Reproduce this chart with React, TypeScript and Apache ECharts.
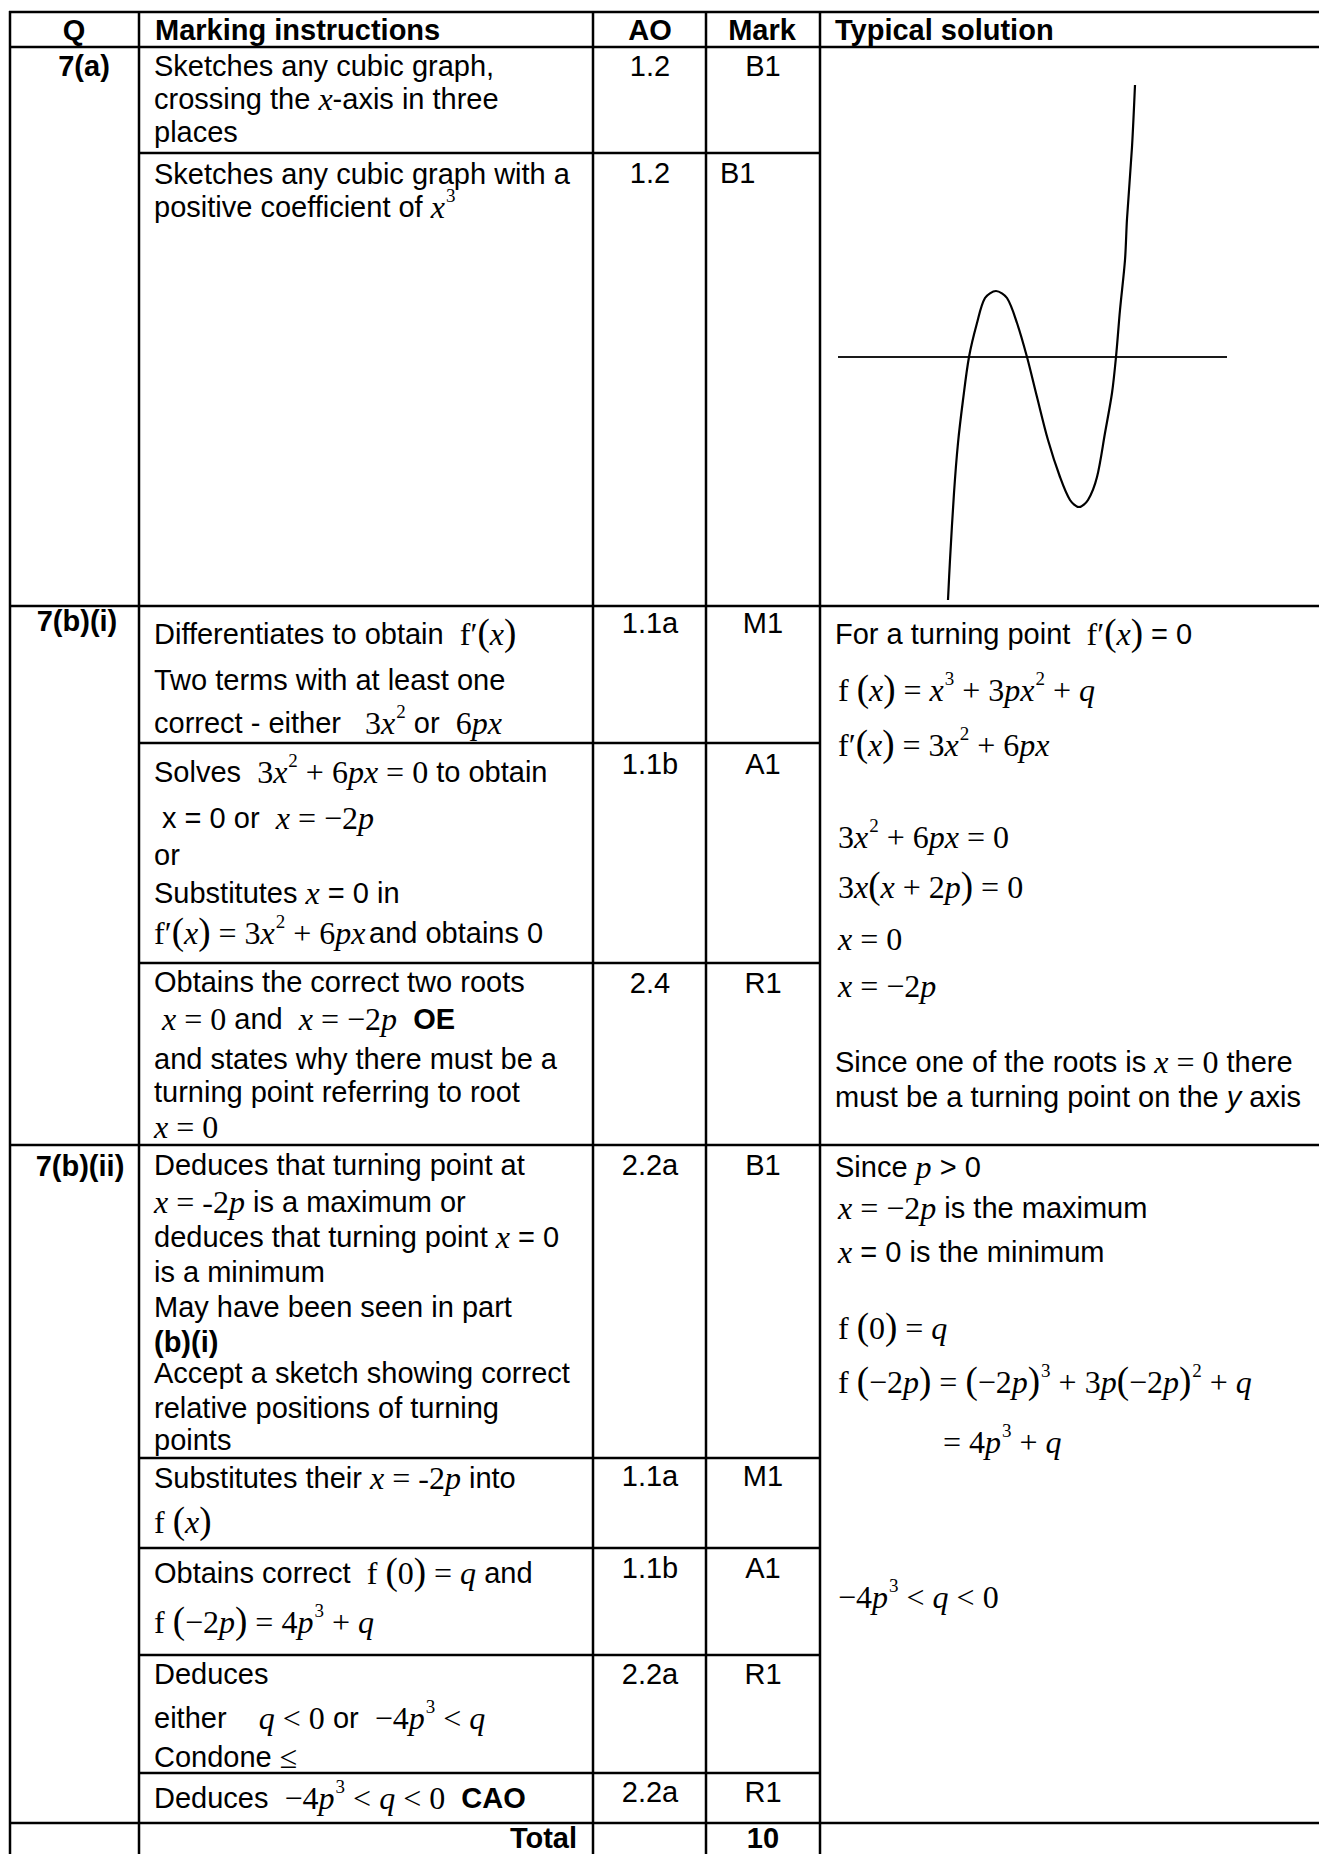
import React, { useEffect, useRef } from "react";
import * as echarts from "echarts";

// ---------- DATA ----------
const headers = ["Q", "Marking instructions", "AO", "Mark", "Typical solution"];
const questions = ["7(a)", "7(b)(i)", "7(b)(ii)"];
const aoCodes = ["1.2", "1.2", "1.1a", "1.1b", "2.4", "2.2a", "1.1a", "1.1b", "2.2a", "2.2a"];
const marks = ["B1", "B1", "M1", "A1", "R1", "B1", "M1", "A1", "R1", "R1"];
const totalLabel = "Total";
const totalMark = "10";

// sketch of the cubic (sketch units = page pixels)
const curveX = [948, 950, 954, 958, 963, 969, 977, 985, 996, 1007, 1017, 1027, 1037, 1048, 1060, 1070, 1079, 1088, 1097, 1105, 1112, 1116, 1120, 1125, 1127, 1132, 1135];
const curveY = [600, 560, 493, 443, 400, 357, 323, 298, 291, 298, 323, 357, 397, 440, 477, 500, 507, 500, 477, 433, 393, 357, 310, 260, 219, 147, 85];
const xAxisLineX = [838, 1227];
const xAxisLineY = [357, 357];

type Seg = [string, string];

// marking-instruction lines
const markingLines: Seg[][] = [
  [["n", "Sketches any cubic graph,"]],
  [["n", "crossing the "], ["i", "x"], ["n", "-axis in three"]],
  [["n", "places"]],
  [["n", "Sketches any cubic graph with a"]],
  [["n", "positive coefficient of "], ["i", "x"], ["s", "3"]],
  [["n", "Differentiates to obtain  "], ["r", "f\u2032"], ["P", "("], ["i", "x"], ["P", ")"]],
  [["n", "Two terms with at least one"]],
  [["n", "correct - either   "], ["r", "3"], ["i", "x"], ["s", "2"], ["n", " or  "], ["r", "6"], ["i", "px"]],
  [["n", "Solves  "], ["r", "3"], ["i", "x"], ["s", "2"], ["r", " + 6"], ["i", "px"], ["r", " = 0"], ["n", " to obtain"]],
  [["n", " x = 0 or  "], ["i", "x"], ["r", " = \u22122"], ["i", "p"]],
  [["n", "or"]],
  [["n", "Substitutes "], ["i", "x"], ["n", " = 0 in"]],
  [["r", "f\u2032"], ["P", "("], ["i", "x"], ["P", ")"], ["r", " = 3"], ["i", "x"], ["s", "2"], ["r", " + 6"], ["i", "px"], ["g", " "], ["n", "and obtains 0"]],
  [["n", "Obtains the correct two roots"]],
  [["r", " "], ["i", "x"], ["r", " = 0"], ["n", " and  "], ["i", "x"], ["r", " = \u22122"], ["i", "p"], ["n", "  "], ["b", "OE"]],
  [["n", "and states why there must be a"]],
  [["n", "turning point referring to root"]],
  [["i", "x"], ["r", " = 0"]],
  [["n", "Deduces that turning point at"]],
  [["i", "x"], ["r", " = -2"], ["i", "p"], ["n", " is a maximum or"]],
  [["n", "deduces that turning point "], ["i", "x"], ["n", " = 0"]],
  [["n", "is a minimum"]],
  [["n", "May have been seen in part"]],
  [["b", "(b)(i)"]],
  [["n", "Accept a sketch showing correct"]],
  [["n", "relative positions of turning"]],
  [["n", "points"]],
  [["n", "Substitutes their "], ["i", "x"], ["r", " = -2"], ["i", "p"], ["n", " into"]],
  [["r", "f "], ["P", "("], ["i", "x"], ["P", ")"]],
  [["n", "Obtains correct  "], ["r", "f "], ["P", "("], ["r", "0"], ["P", ")"], ["r", " = "], ["i", "q"], ["n", " and"]],
  [["r", "f "], ["P", "("], ["r", "\u22122"], ["i", "p"], ["P", ")"], ["r", " = 4"], ["i", "p"], ["s", "3"], ["r", " + "], ["i", "q"]],
  [["n", "Deduces"]],
  [["n", "either    "], ["i", "q"], ["r", " < 0"], ["n", " or  "], ["r", "\u22124"], ["i", "p"], ["s", "3"], ["r", " < "], ["i", "q"]],
  [["n", "Condone "], ["r", "\u2264"]],
  [["n", "Deduces  "], ["r", "\u22124"], ["i", "p"], ["s", "3"], ["r", " < "], ["i", "q"], ["r", " < 0"], ["n", "  "], ["b", "CAO"]],
];

// typical-solution lines
const solutionLines: Seg[][] = [
  [["n", "For a turning point  "], ["r", "f\u2032"], ["P", "("], ["i", "x"], ["P", ")"], ["n", " = 0"]],
  [["r", "f "], ["P", "("], ["i", "x"], ["P", ")"], ["r", " = "], ["i", "x"], ["s", "3"], ["r", " + 3"], ["i", "px"], ["s", "2"], ["r", " + "], ["i", "q"]],
  [["r", "f\u2032"], ["P", "("], ["i", "x"], ["P", ")"], ["r", " = 3"], ["i", "x"], ["s", "2"], ["r", " + 6"], ["i", "px"]],
  [["r", "3"], ["i", "x"], ["s", "2"], ["r", " + 6"], ["i", "px"], ["r", " = 0"]],
  [["r", "3"], ["i", "x"], ["P", "("], ["i", "x"], ["r", " + 2"], ["i", "p"], ["P", ")"], ["r", " = 0"]],
  [["i", "x"], ["r", " = 0"]],
  [["i", "x"], ["r", " = \u22122"], ["i", "p"]],
  [["n", "Since one of the roots is "], ["i", "x"], ["r", " = 0"], ["n", " there"]],
  [["n", "must be a turning point on the "], ["ni", "y"], ["n", " axis"]],
  [["n", "Since "], ["i", "p"], ["n", " > 0"]],
  [["i", "x"], ["r", " = \u22122"], ["i", "p"], ["n", " is the maximum"]],
  [["i", "x"], ["n", " = 0 is the minimum"]],
  [["r", "f "], ["P", "("], ["r", "0"], ["P", ")"], ["r", " = "], ["i", "q"]],
  [["r", "f "], ["P", "("], ["r", "\u22122"], ["i", "p"], ["P", ")"], ["r", " = "], ["P", "("], ["r", "\u22122"], ["i", "p"], ["P", ")"], ["s", "3"], ["r", " + 3"], ["i", "p"], ["P", "("], ["r", "\u22122"], ["i", "p"], ["P", ")"], ["s", "2"], ["r", " + "], ["i", "q"]],
  [["r", "= 4"], ["i", "p"], ["s", "3"], ["r", " + "], ["i", "q"]],
  [["r", "\u22124"], ["i", "p"], ["s", "3"], ["r", " < "], ["i", "q"], ["r", " < 0"]],
];

// ---------- LAYOUT ----------
const W = 1319;
const H = 1854;
const colX = [10, 139, 593, 706, 820];
const fullRowY = [12, 47, 606, 1145, 1823];
const subRowY = [153, 743, 963, 1458, 1548, 1655, 1773];
const headerY = 30;
const headerPos: [number, string][] = [[74, "center"], [155, "left"], [650, "center"], [762, "center"], [835, "left"]];
const questionPos: [number, number][] = [[84, 66], [77, 621], [80, 1166]];
const markingX = 154;
const markingY = [66, 99, 132, 174, 207, 634, 680, 723, 772, 818, 855, 893, 933, 982, 1019, 1059, 1092, 1127,
  1165, 1202, 1237, 1272, 1307, 1342, 1373, 1408, 1440, 1478, 1522, 1573, 1622, 1674, 1718, 1757, 1798];
const aoX = 650;
const markX = 763;
const codeY = [66, 173, 623, 764, 983, 1165, 1476, 1568, 1674, 1792];
const markAlignLeft = [false, true, false, false, false, false, false, false, false, false];
const solutionX = [835, 838, 838, 838, 838, 838, 838, 835, 835, 835, 838, 838, 838, 838, 943, 838];
const solutionY = [634, 690, 745, 837, 887, 939, 986, 1062, 1097, 1167, 1208, 1252, 1328, 1382, 1442, 1597];
const totalPos = { x: 577, y: 1838 };

const SANS = "'Liberation Sans', Arial, Helvetica, sans-serif";
const SERIF = "'Liberation Serif', 'Times New Roman', Times, serif";
const STY: Record<string, { size: number; family: string; weight: string; style: string; dy: number }> = {
  n: { size: 29, family: SANS, weight: "normal", style: "normal", dy: 0 },
  b: { size: 29, family: SANS, weight: "bold", style: "normal", dy: 0 },
  ni: { size: 29, family: SANS, weight: "normal", style: "italic", dy: 0 },
  i: { size: 32, family: SERIF, weight: "normal", style: "italic", dy: 0 },
  r: { size: 32, family: SERIF, weight: "normal", style: "normal", dy: 0 },
  P: { size: 37, family: SERIF, weight: "normal", style: "normal", dy: -2 },
  s: { size: 19, family: SERIF, weight: "normal", style: "normal", dy: -12 },
  g: { size: 14, family: SERIF, weight: "normal", style: "normal", dy: 0 },
};

let measureCtx: CanvasRenderingContext2D | null = null;
function measure(text: string, key: string): number {
  if (!measureCtx) measureCtx = document.createElement("canvas").getContext("2d");
  const s = STY[key];
  measureCtx!.font = `${s.style} ${s.weight} ${s.size}px ${s.family}`;
  return measureCtx!.measureText(text).width;
}

function lineEls(x: number, y: number, segs: Seg[], anchor = "left"): any[] {
  const widths = segs.map(([k, t]) => measure(t, k) + (k === "s" ? 1 : 0));
  const total = widths.reduce((a, b) => a + b, 0);
  let cx = anchor === "center" ? x - total / 2 : anchor === "right" ? x - total : x;
  const out: any[] = [];
  segs.forEach(([k, t], idx) => {
    const s = STY[k];
    if (t.trim() !== "") {
      out.push({
        type: "text",
        x: cx + (k === "s" ? 1 : 0),
        y: y + s.dy,
        silent: true,
        style: {
          text: t,
          fill: "#000",
          fontSize: s.size,
          fontFamily: s.family,
          fontWeight: s.weight,
          fontStyle: s.style,
          textAlign: "left",
          textVerticalAlign: "middle",
          align: "left",
          verticalAlign: "middle",
        },
      });
    }
    cx += widths[idx];
  });
  return out;
}

function buildGraphic(): any[] {
  const els: any[] = [];
  const ls = { stroke: "#000", lineWidth: 2.5 };
  // vertical lines
  colX.forEach((x) => els.push({ type: "line", silent: true, shape: { x1: x, y1: fullRowY[0] - 1, x2: x, y2: H }, style: ls }));
  // full-width horizontals
  fullRowY.forEach((y) => els.push({ type: "line", silent: true, shape: { x1: colX[0] - 1, y1: y, x2: W, y2: y }, style: ls }));
  // partial horizontals (Marking, AO, Mark columns)
  subRowY.forEach((y) => els.push({ type: "line", silent: true, shape: { x1: colX[1], y1: y, x2: colX[4], y2: y }, style: ls }));

  headers.forEach((h, i) => els.push(...lineEls(headerPos[i][0], headerY, [["b", h]], headerPos[i][1])));
  questions.forEach((q, i) => els.push(...lineEls(questionPos[i][0], questionPos[i][1], [["b", q]], "center")));
  markingLines.forEach((segs, i) => els.push(...lineEls(markingX, markingY[i], segs)));
  aoCodes.forEach((c, i) => els.push(...lineEls(aoX, codeY[i], [["n", c]], "center")));
  marks.forEach((m, i) =>
    els.push(...lineEls(markAlignLeft[i] ? 720 : markX, codeY[i], [["n", m]], markAlignLeft[i] ? "left" : "center"))
  );
  solutionLines.forEach((segs, i) => els.push(...lineEls(solutionX[i], solutionY[i], segs)));
  els.push(...lineEls(totalPos.x, totalPos.y, [["b", totalLabel]], "right"));
  els.push(...lineEls(markX, totalPos.y, [["b", totalMark]], "center"));
  return els;
}

export default function App() {
  const ref = useRef<HTMLDivElement>(null);
  useEffect(() => {
    document.body.style.margin = "0";
    if (!ref.current) return;
    const chart = echarts.init(ref.current, null, { renderer: "svg" });
    const curve = curveX.map((x, i) => [x, curveY[i]]);
    const axisLine = xAxisLineX.map((x, i) => [x, xAxisLineY[i]]);
    chart.setOption({
      animation: false,
      backgroundColor: "#ffffff",
      grid: { left: 800, top: 40, width: 500, height: 560, containLabel: false },
      xAxis: { type: "value", min: 800, max: 1300, show: false },
      yAxis: { type: "value", min: 40, max: 600, inverse: true, show: false },
      series: [
        {
          type: "line",
          data: axisLine,
          symbol: "none",
          silent: true,
          lineStyle: { color: "#1a1a1a", width: 2 },
        },
        {
          type: "line",
          data: curve,
          smooth: 0.3,
          symbol: "none",
          silent: true,
          clip: false,
          lineStyle: { color: "#000", width: 2.2 },
        },
      ],
      graphic: buildGraphic(),
    });
    return () => chart.dispose();
  }, []);
  return <div ref={ref} style={{ width: W, height: H }} />;
}
